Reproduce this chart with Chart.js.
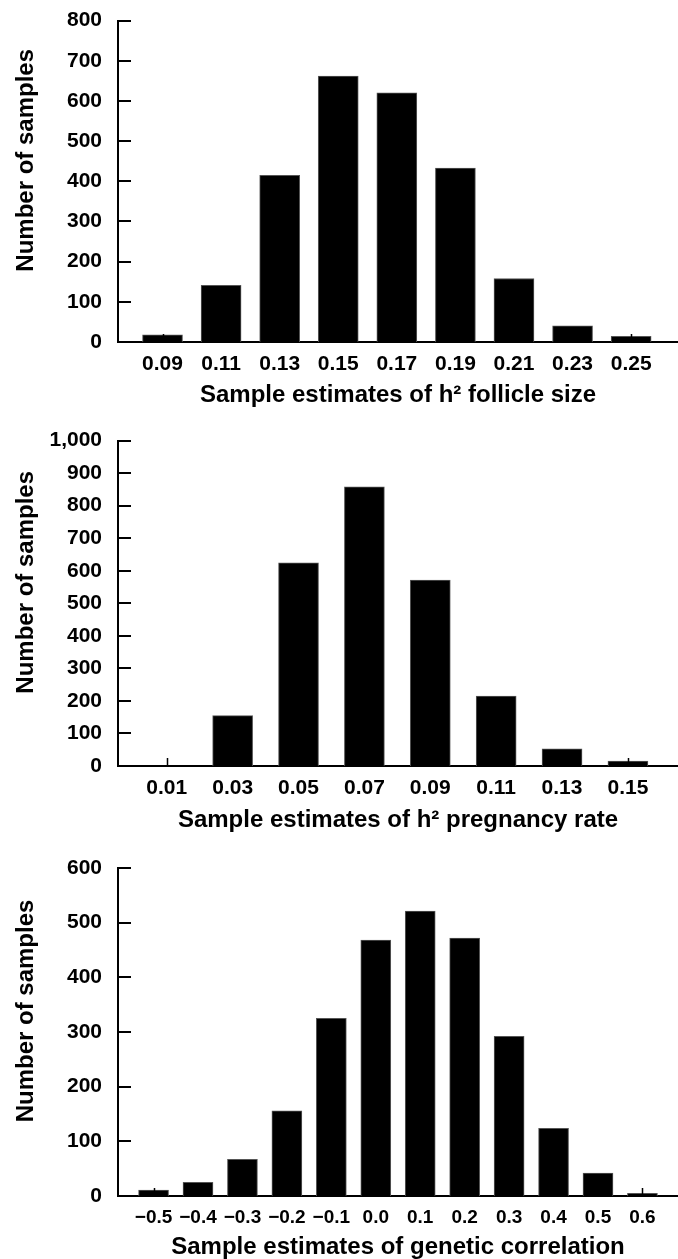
<!DOCTYPE html>
<html>
<head>
<meta charset="utf-8">
<script src="https://cdn.jsdelivr.net/npm/chart.js@4.4.0/dist/chart.umd.min.js"></script>
<style>
  html, body { margin: 0; padding: 0; background: #fff; }
  #wrap { position: relative; width: 678px; height: 1259px; }
  canvas { position: absolute; left: 0; }
</style>
</head>
<body>
<div id="wrap">
  <canvas id="follicle-chart" width="678" height="420" style="top:0"></canvas>
  <canvas id="pregnancy-chart" width="678" height="420" style="top:420px"></canvas>
  <canvas id="corr-chart" width="678" height="419" style="top:840px"></canvas>
</div>
<script>
// Bootstrap samples
const follicleBins   = ["0.09", "0.11", "0.13", "0.15", "0.17", "0.19", "0.21", "0.23", "0.25"];
const follicleCounts = [18, 141, 415, 662, 620, 433, 158, 40, 14];

const pregnancyBins   = ["0.01", "0.03", "0.05", "0.07", "0.09", "0.11", "0.13", "0.15"];
const pregnancyCounts = [0, 155, 624, 858, 571, 215, 53, 15];

const corrBins   = ["\u22120.5", "\u22120.4", "\u22120.3", "\u22120.2", "\u22120.1", "0.0", "0.1", "0.2", "0.3", "0.4", "0.5", "0.6"];
const corrCounts = [11, 25, 67, 156, 325, 468, 521, 472, 292, 124, 42, 5];

// y axis tops (ticks every 100)
const yMaxes = [800, 1000, 600];

const FONT = '"Liberation Sans", Arial, Helvetica, sans-serif';
Chart.defaults.color = '#000';
Chart.defaults.font.family = FONT;
Chart.defaults.font.weight = 'bold';

// Tick marks point into the plot, as in the printed figure
const innerTicks = {
  id: 'innerTicks',
  afterDatasetsDraw(chart, args, opts) {
    const { ctx, chartArea, scales: { x, y } } = chart;
    ctx.save();
    ctx.strokeStyle = '#000';
    ctx.lineWidth = 2;
    ctx.beginPath();
    y.ticks.forEach(t => {
      const py = Math.round(y.getPixelForValue(t.value));
      ctx.moveTo(chartArea.left, py);
      ctx.lineTo(chartArea.left + opts.yLen, py);
    });
    ctx.stroke();
    ctx.lineWidth = 1.5;
    ctx.beginPath();
    x.ticks.forEach(t => {
      const px = Math.round(x.getPixelForValue(t.value)) + 0.5;
      ctx.moveTo(px, chartArea.bottom);
      ctx.lineTo(px, chartArea.bottom - opts.xLen);
    });
    ctx.stroke();
    ctx.restore();
  }
};

// y title sits a bit above the axis middle, so it is drawn here
const sideTitle = {
  id: 'sideTitle',
  afterDraw(chart, args, opts) {
    const { ctx, chartArea } = chart;
    ctx.save();
    ctx.translate(opts.x, (chartArea.top + chartArea.bottom) / 2 + opts.dy);
    ctx.rotate(-Math.PI / 2);
    ctx.font = 'bold 24px ' + FONT;
    ctx.textAlign = 'center';
    ctx.textBaseline = 'alphabetic';
    ctx.fillStyle = '#000';
    ctx.fillText(opts.text, 0, 0);
    ctx.restore();
  }
};

function makeHistogram(id, bins, counts, cfg) {
  const canvas = document.getElementById(id);
  const h = canvas.height;
  return new Chart(canvas.getContext('2d'), {
    type: 'bar',
    data: {
      datasets: [{
        data: counts.map((v, i) => ({ x: i, y: v })),
        backgroundColor: '#000',
        borderColor: '#555',
        borderWidth: 1,
        barThickness: cfg.barWidth
      }]
    },
    options: {
      responsive: false,
      animation: false,
      layout: { padding: { top: cfg.areaTop, left: 0, right: 0, bottom: 0 } },
      plugins: {
        legend: { display: false },
        tooltip: { enabled: false },
        innerTicks: { yLen: 13, xLen: 8 },
        sideTitle: { text: 'Number of samples', x: 33, dy: -21 }
      },
      scales: {
        x: {
          type: 'linear',
          offset: false,
          min: cfg.xMin,
          max: cfg.xMax,
          grid: { display: false },
          border: { display: true, color: '#000', width: 2 },
          afterBuildTicks: s => { s.ticks = bins.map((b, i) => ({ value: i })); },
          afterFit: s => { s.height = h - cfg.areaBottom; },
          ticks: {
            autoSkip: false,
            maxRotation: 0,
            padding: 2,
            font: { size: cfg.xTickSize, weight: 'bold' },
            callback: v => bins[v]
          },
          title: {
            display: true,
            text: cfg.title,
            font: { size: 24, weight: 'bold', lineHeight: 1 },
            padding: { top: 0, bottom: cfg.titlePad }
          }
        },
        y: {
          min: 0,
          max: cfg.yMax,
          grid: { display: false },
          border: { display: true, color: '#000', width: 2 },
          afterFit: s => { s.width = 118; },
          ticks: {
            stepSize: 100,
            padding: 8,
            font: { size: 21, weight: 'bold' }
          }
        }
      }
    },
    plugins: [innerTicks, sideTitle]
  });
}

makeHistogram('follicle-chart', follicleBins, follicleCounts, {
  yMax: yMaxes[0], xMin: -0.76, xMax: 8.8, barWidth: 40,
  areaTop: 15, areaBottom: 342, xTickSize: 21,
  title: 'Sample estimates of h\u00B2 follicle size', titlePad: 13
});

makeHistogram('pregnancy-chart', pregnancyBins, pregnancyCounts, {
  yMax: yMaxes[1], xMin: -0.74, xMax: 7.76, barWidth: 40,
  areaTop: 20, areaBottom: 346, xTickSize: 21,
  title: 'Sample estimates of h\u00B2 pregnancy rate', titlePad: 8
});

makeHistogram('corr-chart', corrBins, corrCounts, {
  yMax: yMaxes[2], xMin: -0.8, xMax: 11.8, barWidth: 30,
  areaTop: 28, areaBottom: 356, xTickSize: 19,
  title: 'Sample estimates of genetic correlation', titlePad: 0
});
</script>
</body>
</html>
